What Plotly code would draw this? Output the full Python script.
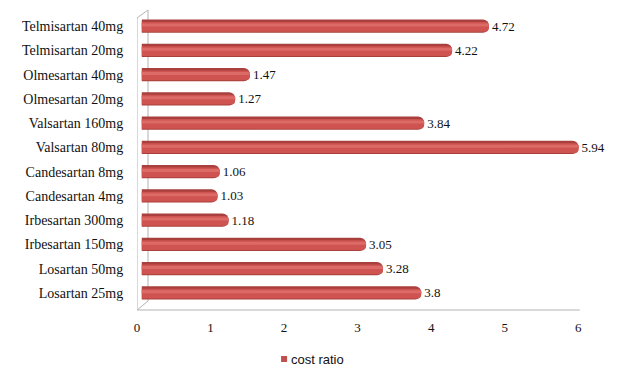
import plotly.graph_objects as go

# Cost ratio per drug and dose (top of chart first)
drugs = [
    "Telmisartan 40mg", "Telmisartan 20mg", "Olmesartan 40mg", "Olmesartan 20mg",
    "Valsartan 160mg", "Valsartan 80mg", "Candesartan 8mg", "Candesartan 4mg",
    "Irbesartan 300mg", "Irbesartan 150mg", "Losartan 50mg", "Losartan 25mg",
]
cost_ratio = [4.72, 4.22, 1.47, 1.27, 3.84, 5.94, 1.06, 1.03, 1.18, 3.05, 3.28, 3.8]
x_ticks = [0, 1, 2, 3, 4, 5, 6]
series_name = "cost ratio"

# plotly draws categories bottom-up, so reverse for top-down order
cats = drugs[::-1]
vals = cost_ratio[::-1]

SERIF = "Liberation Serif, Times New Roman, serif"
SANS = "Liberation Sans, Arial, sans-serif"
BAR_RED = "#c0504d"

X_MAX = 6.5      # visible axis extends past 6 so end labels have room
SHIFT = 0.065    # bars sit slightly behind the front wall edge

# plot area in pixels
PLOT_L, PLOT_W = 137, 6.5 * 73.5
PLOT_T, PLOT_B = 14, 305
PLOT_H = PLOT_B - PLOT_T

fig = go.Figure()

# Cylinder look: dark outer shell, main body, and a thin highlight band
fig.add_trace(go.Bar(
    y=cats, x=vals, orientation="h", width=0.54, name=series_name,
    marker=dict(color="#a9403d", cornerradius=6, line=dict(width=0)),
    text=[str(v) for v in vals], textposition="outside", constraintext="none",
    textfont=dict(family=SERIF, size=13, color="#111111"),
    cliponaxis=False, xaxis="x2", showlegend=False,
))
fig.add_trace(go.Bar(
    y=cats, x=vals, orientation="h", width=0.40, offset=-0.23,
    marker=dict(color="#cf5350", cornerradius=5, line=dict(width=0)),
    xaxis="x2", showlegend=False, hoverinfo="skip", cliponaxis=False,
))
fig.add_trace(go.Bar(
    y=cats, x=vals, orientation="h", width=0.13, offset=-0.02,
    marker=dict(color="#dc6a67", cornerradius=3, line=dict(width=0)),
    xaxis="x2", showlegend=False, hoverinfo="skip", cliponaxis=False,
))


def px(x):
    return (x - PLOT_L) / PLOT_W


def py(y):
    return (PLOT_B - y) / PLOT_H


# 3D-style walls and floor outlines
wall = "#b3b3b3"
d = 0.15  # depth of the wall in axis units
front_bot, back_bot = py(310), py(301)
front_top, back_top = py(18), py(10)
shapes = [
    dict(type="line", xref="x", yref="paper", x0=0, x1=0, y0=front_bot, y1=front_top),
    dict(type="line", xref="x", yref="paper", x0=d, x1=d, y0=back_bot, y1=back_top),
    dict(type="line", xref="x", yref="paper", x0=0, x1=d, y0=front_top, y1=back_top),
    dict(type="line", xref="x", yref="paper", x0=0, x1=d, y0=front_bot, y1=back_bot),
    dict(type="line", xref="x", yref="paper", x0=0, x1=6.02, y0=front_bot, y1=front_bot),
]
for s in shapes:
    s["line"] = dict(color=wall, width=1)
    s["layer"] = "below"

# Legend key: small square followed by the series name
shapes.append(dict(
    type="rect", xref="paper", yref="paper",
    x0=px(281), x1=px(287), y0=py(356), y1=py(362),
    fillcolor=BAR_RED, line=dict(width=0),
))
annotations = [dict(
    text=series_name, xref="paper", yref="paper", x=px(288.5), y=py(359),
    xanchor="left", yanchor="middle", showarrow=False,
    font=dict(family=SANS, size=13, color="#111111"),
)]

fig.update_layout(
    width=622, height=367,
    margin=dict(l=PLOT_L, r=622 - PLOT_L - PLOT_W, t=PLOT_T, b=367 - PLOT_B,
                autoexpand=False),
    paper_bgcolor="white", plot_bgcolor="white",
    barmode="overlay", bargap=0.5, showlegend=False,
    shapes=shapes, annotations=annotations,
    xaxis=dict(
        range=[0, X_MAX], tickvals=x_ticks, ticktext=[str(t) for t in x_ticks],
        showgrid=False, zeroline=False, showline=False,
        ticks="outside", ticklen=10, tickcolor="rgba(0,0,0,0)",
        tickfont=dict(family=SERIF, size=13, color="#111111"),
        fixedrange=True,
    ),
    xaxis2=dict(
        range=[-SHIFT, X_MAX - SHIFT], overlaying="x", side="bottom",
        visible=False,
    ),
    yaxis=dict(
        categoryorder="array", categoryarray=cats, range=[-0.5, 11.5],
        showgrid=False, zeroline=False, showline=False,
        ticks="outside", ticklen=10, tickcolor="rgba(0,0,0,0)",
        tickfont=dict(family=SERIF, size=14, color="#111111"),
    ),
)

fig.write_html("out.html")
